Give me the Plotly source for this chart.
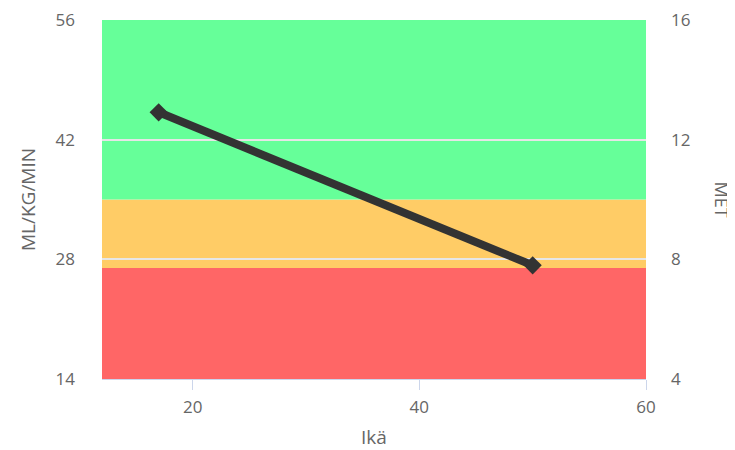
import plotly.graph_objects as go

# Data
age = [17, 50]
vo2 = [45.2, 27.3]  # ml/kg/min

band_low = [14, 27, 35]
band_high = [27, 35, 56]
band_colors = ["#ff6666", "#ffcc66", "#66ff99"]

x_range = [12, 60]
y_range = [14, 56]
met_range = [4, 16]
x_ticks = [20, 40, 60]
y_ticks = [14, 28, 42, 56]
met_ticks = [4, 8, 12, 16]

font_family = "Open Sans, DejaVu Sans, sans-serif"
gray = "#666666"

fig = go.Figure()

for lo, hi, col in zip(band_low, band_high, band_colors):
    fig.add_shape(type="rect", xref="x domain", yref="y", x0=0, x1=1, y0=lo, y1=hi,
                  fillcolor=col, line=dict(width=0), layer="below")

fig.add_trace(go.Scatter(
    x=age, y=vo2, mode="lines+markers",
    line=dict(color="#333333", width=8),
    marker=dict(symbol="diamond", size=14, color="#333333"),
    showlegend=False, hoverinfo="skip"))

# invisible trace to activate second axis
fig.add_trace(go.Scatter(x=[x_range[0]], y=[met_range[0]], yaxis="y2",
                         mode="markers", marker=dict(opacity=0), showlegend=False, hoverinfo="skip"))

fig.update_layout(
    width=727, height=442,
    margin=dict(l=94, r=89, t=12, b=71),
    paper_bgcolor="white", plot_bgcolor="white",
    font=dict(family=font_family, color=gray, size=16),
    xaxis=dict(range=x_range, tickvals=x_ticks, showgrid=False, zeroline=False, automargin=False,
               showline=True, linecolor="#ccd6eb", linewidth=1,
               ticks="outside", ticklen=10, tickcolor="#ccd6eb", tickwidth=1,
               ticklabelstandoff=3, ticklabeloverflow="allow",
               tickfont=dict(size=17, color=gray),
               title=dict(text="Ikä", font=dict(size=19, color=gray), standoff=18)),
    yaxis=dict(range=y_range, tickvals=y_ticks, showgrid=True, gridcolor="#e6e6e6", gridwidth=2,
               zeroline=False, showline=False, ticks="", ticklabelstandoff=26, automargin=False,
               ticklabeloverflow="allow",
               tickfont=dict(size=17, color=gray),
               title=dict(text="ML/KG/MIN", font=dict(size=19, color=gray), standoff=14)),
    yaxis2=dict(range=met_range, tickvals=met_ticks, overlaying="y", side="right", automargin=False,
                showgrid=False, zeroline=False, showline=False, ticks="", ticklabelstandoff=24,
                ticklabeloverflow="allow",
                tickfont=dict(size=17, color=gray)),
)

fig.add_annotation(text="MET", xref="paper", yref="paper", x=1, y=0.5, xshift=76,
                   xanchor="center", yanchor="middle",
                   textangle=90, showarrow=False, font=dict(size=18, color=gray))

fig.write_html("out.html")
